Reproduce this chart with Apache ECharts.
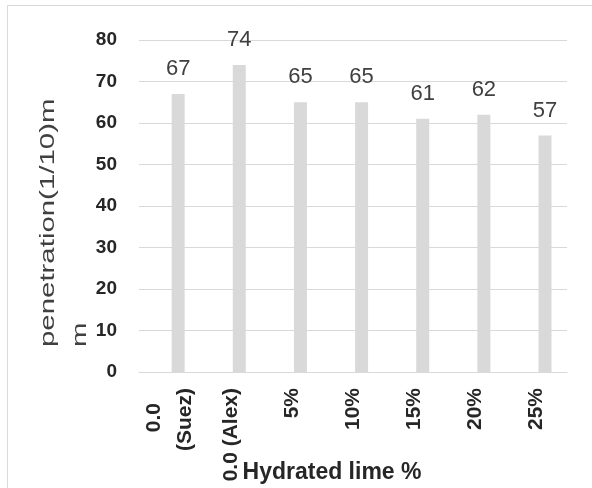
<!DOCTYPE html>
<html><head><meta charset="utf-8">
<script src="https://cdn.jsdelivr.net/npm/echarts@6/dist/echarts.min.js"></script>
<style>html,body{margin:0;padding:0;background:#fff}#c{width:592px;height:488px}</style>
</head><body><div id="c"></div>
<script>
const categories = ['0.0\n(Suez)', '0.0 (Alex)', '5%', '10%', '15%', '20%', '25%'];
const emptySeries = [0, 0, 0, 0, 0, 0, 0];
const penetration = [67, 74, 65, 65, 61, 62, 57];
const yMin = 0, yMax = 80, yStep = 10;
const xTitle = 'Hydrated lime %';
const yTitle = 'penetration(1/10)m\nm';

const chart = echarts.init(document.getElementById('c'));
const FONT = 'Liberation Sans';
const tickFont = { fontFamily: FONT, fontSize: 21, fontWeight: 'bold', color: '#262626', lineHeight: 31 };
chart.setOption({
  animation: false,
  backgroundColor: '#fff',
  grid: { left: 139, right: 25, top: 40, bottom: 116, containLabel: false, outerBoundsMode: 'none' },
  xAxis: {
    type: 'category',
    data: categories,
    axisLine: { lineStyle: { color: '#d9d9d9', width: 1 } },
    axisTick: { show: false },
    axisLabel: Object.assign({
      rotate: 90, interval: 0, margin: 16,
      formatter: function (v) {
        const parts = v.split('\n');
        if (parts.length < 2) return v;
        return '{pad|' + parts[0] + '}\n{n|' + parts[1] + '}';
      },
      rich: {
        pad: Object.assign({ padding: [0, 15, 0, 0] }, tickFont),
        n: Object.assign({}, tickFont)
      }
    }, tickFont),
    name: xTitle,
    nameLocation: 'middle',
    nameGap: 89,
    nameMoveOverlap: false,
    nameTextStyle: { fontFamily: FONT, fontSize: 23, fontWeight: 'bold', color: '#262626', padding: [0, 42, 0, 0] }
  },
  yAxis: {
    type: 'value',
    min: yMin, max: yMax, interval: yStep,
    axisLine: { show: false },
    axisTick: { show: false },
    splitLine: { lineStyle: { color: '#d9d9d9', width: 1 } },
    axisLabel: { margin: 22, fontFamily: FONT, fontSize: 19, fontWeight: 'bold', color: '#262626' }
  },
  series: [
    { type: 'bar', data: emptySeries, barWidth: 13, barGap: '32%', itemStyle: { color: '#d9d9d9' } },
    { type: 'bar', data: penetration, barWidth: 13, itemStyle: { color: '#d9d9d9' },
      label: { show: true, position: 'top', distance: 14, fontFamily: FONT, fontSize: 22, color: '#404040' } }
  ],
  graphic: [
    { type: 'rect', silent: true, z: -10, shape: { x: 7.5, y: 5.5, width: 620, height: 620 }, style: { fill: 'none', stroke: '#d9d9d9', lineWidth: 1 } },
    { type: 'text', x: 64, y: 347, rotation: Math.PI / 2, scaleX: 1.4,
      style: { text: yTitle, fontFamily: FONT, fontSize: 21, fill: '#404040', align: 'left', verticalAlign: 'middle', lineHeight: 32 } }
  ]
});
</script></body></html>
